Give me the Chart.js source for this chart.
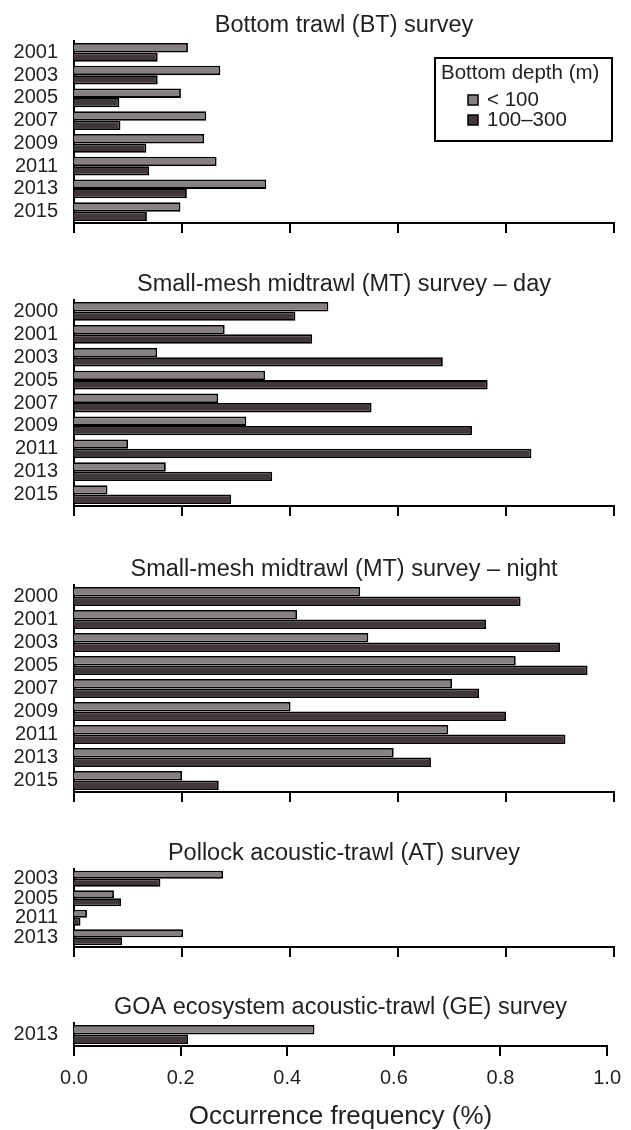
<!DOCTYPE html>
<html>
<head>
<meta charset="utf-8">
<title>Occurrence frequency by survey and bottom depth</title>
<script src="https://cdn.jsdelivr.net/npm/chart.js@4/dist/chart.umd.min.js"></script>
<style>
  html, body { margin: 0; padding: 0; background: #fff; }
  #page { position: relative; width: 631px; height: 1130px; overflow: hidden; }
  .panel { position: absolute; left: 0; }
</style>
</head>
<body>
<div id="page"></div>
<script>
// ---- data -------------------------------------------------------------
const depthLabels = ['< 100', '100\u2013300'];
const legendTitle = 'Bottom depth (m)';
const xTickLabels = ['0.0', '0.2', '0.4', '0.6', '0.8', '1.0'];
const xAxisTitle = 'Occurrence frequency (%)';

const btTitle = 'Bottom trawl (BT) survey';
const btYears = ['2001', '2003', '2005', '2007', '2009', '2011', '2013', '2015'];
const btShallow = [0.211, 0.271, 0.198, 0.245, 0.241, 0.264, 0.356, 0.197];
const btDeep    = [0.155, 0.155, 0.084, 0.086, 0.134, 0.139, 0.209, 0.135];

const mtDayTitle = 'Small-mesh midtrawl (MT) survey \u2013 day';
const mtDayYears = ['2000', '2001', '2003', '2005', '2007', '2009', '2011', '2013', '2015'];
const mtDayShallow = [0.471, 0.279, 0.154, 0.354, 0.267, 0.319, 0.100, 0.170, 0.062];
const mtDayDeep    = [0.410, 0.441, 0.683, 0.766, 0.551, 0.737, 0.847, 0.367, 0.291];

const mtNightTitle = 'Small-mesh midtrawl (MT) survey \u2013 night';
const mtNightYears = ['2000', '2001', '2003', '2005', '2007', '2009', '2011', '2013', '2015'];
const mtNightShallow = [0.530, 0.413, 0.545, 0.818, 0.700, 0.401, 0.693, 0.592, 0.200];
const mtNightDeep    = [0.827, 0.763, 0.900, 0.951, 0.750, 0.800, 0.910, 0.661, 0.268];

const atTitle = 'Pollock acoustic-trawl (AT) survey';
const atYears = ['2003', '2005', '2011', '2013'];
const atShallow = [0.276, 0.074, 0.024, 0.202];
const atDeep    = [0.160, 0.087, 0.012, 0.089];

const geTitle = 'GOA ecosystem acoustic-trawl (GE) survey';
const geYears = ['2013'];
const geShallow = [0.451];
const geDeep    = [0.214];

// ---- styling ----------------------------------------------------------
const FONT = "'Liberation Sans', Arial, Helvetica, sans-serif";
const TEXT = '#231f20';
const SHALLOW_FILL = '#868081';
const DEEP_FILL = '#413738';
const AXIS_LEFT = 74;      // width reserved for the year labels
const RIGHT_PAD = 17;
const TITLE_BLOCK = 32;    // height of the panel title strip

Chart.defaults.font.family = FONT;
Chart.defaults.color = TEXT;

// Boxed legend drawn inside the plot area of the first panel
const depthLegend = {
  id: 'depthLegend',
  afterDraw(chart, args, opts) {
    if (!opts.show) return;
    const { ctx, chartArea } = chart;
    const w = 177, h = 83;
    const x = chartArea.right - 2 - w;
    const y = chartArea.top + 17;
    ctx.save();
    ctx.fillStyle = '#fff';
    ctx.fillRect(x, y, w, h);
    ctx.lineWidth = 2;
    ctx.strokeStyle = '#000';
    ctx.strokeRect(x, y, w, h);
    ctx.font = '20.5px ' + FONT;
    ctx.textBaseline = 'middle';
    ctx.textAlign = 'left';
    ctx.fillStyle = TEXT;
    ctx.fillText(opts.title, x + 6, y + 15);
    chart.data.datasets.forEach((ds, i) => {
      const ry = y + 42 + i * 20;
      ctx.fillStyle = ds.backgroundColor;
      ctx.fillRect(x + 33, ry - 5, 10, 10);
      ctx.lineWidth = 1.5;
      ctx.strokeRect(x + 33, ry - 5, 10, 10);
      ctx.fillStyle = TEXT;
      ctx.fillText(ds.label, x + 52, ry);
    });
    ctx.restore();
  }
};

function makePanel(cfg) {
  const isBottom = !!cfg.bottom;
  const xh = cfg.xHeight;
  const plotH = cfg.plotBottom - cfg.plotTop;
  const height = TITLE_BLOCK + plotH + xh;
  const top = cfg.plotTop - TITLE_BLOCK;

  const holder = document.createElement('div');
  holder.className = 'panel';
  holder.style.top = top + 'px';
  const canvas = document.createElement('canvas');
  canvas.width = 631;
  canvas.height = height;
  canvas.style.width = '631px';
  canvas.style.height = height + 'px';
  holder.appendChild(canvas);
  document.getElementById('page').appendChild(holder);

  return new Chart(canvas, {
    type: 'bar',
    data: {
      labels: cfg.years,
      datasets: [
        { label: depthLabels[0], data: cfg.shallow, backgroundColor: SHALLOW_FILL,
          borderColor: '#000', borderWidth: 1.8 },
        { label: depthLabels[1], data: cfg.deep, backgroundColor: DEEP_FILL,
          borderColor: '#000', borderWidth: 1.8 }
      ]
    },
    options: {
      indexAxis: 'y',
      responsive: false,
      animation: false,
      events: [],
      datasets: { bar: { categoryPercentage: 0.82, barPercentage: 1.0 } },
      layout: { padding: { left: 0, right: RIGHT_PAD, top: 0, bottom: 0 } },
      plugins: {
        legend: { display: false },
        tooltip: { enabled: false },
        title: { display: false },
        depthLegend: { show: !!cfg.legend, title: legendTitle }
      },
      scales: {
        // top axis carries only the panel title, centred over the plot area
        head: {
          type: 'linear',
          position: 'top',
          axis: 'x',
          min: 0,
          max: 1,
          ticks: { display: false },
          grid: { display: false, drawTicks: false },
          border: { display: false },
          title: {
            display: true,
            text: cfg.title,
            color: TEXT,
            font: { size: 23.5, lineHeight: 1.2 },
            padding: { top: 2, bottom: 0 }
          },
          afterFit: (s) => { s.height = TITLE_BLOCK; }
        },
        x: {
          type: 'linear',
          position: 'bottom',
          min: 0,
          max: 1,
          afterBuildTicks: (s) => { s.ticks = xTickLabels.map(t => ({ value: parseFloat(t) })); },
          ticks: {
            display: isBottom,
            color: TEXT,
            font: { size: 20 },
            padding: 10,
            maxRotation: 0,
            callback: (v, i) => xTickLabels[i]
          },
          grid: {
            drawOnChartArea: false,
            drawTicks: true,
            tickLength: 10,
            color: '#000',
            lineWidth: 2
          },
          border: { display: true, color: '#000', width: 2 },
          title: {
            display: isBottom,
            text: xAxisTitle,
            color: TEXT,
            font: { size: 26, lineHeight: 1.0 },
            padding: { top: 0, bottom: 0 }
          },
          afterFit: (s) => { s.height = xh; }
        },
        y: {
          type: 'category',
          offset: true,
          ticks: { color: TEXT, font: { size: 20 }, padding: 16, autoSkip: false },
          grid: { display: true, drawOnChartArea: false, drawTicks: false },
          border: { display: true, color: '#000', width: 2 },
          afterFit: (s) => { s.width = AXIS_LEFT; }
        }
      }
    },
    plugins: [depthLegend]
  });
}

makePanel({ title: btTitle, years: btYears, shallow: btShallow, deep: btDeep,
            plotTop: 41, plotBottom: 237, xHeight: 14, legend: true });
makePanel({ title: mtDayTitle, years: mtDayYears, shallow: mtDayShallow, deep: mtDayDeep,
            plotTop: 300, plotBottom: 520, xHeight: 14 });
makePanel({ title: mtNightTitle, years: mtNightYears, shallow: mtNightShallow, deep: mtNightDeep,
            plotTop: 585, plotBottom: 806, xHeight: 14 });
makePanel({ title: atTitle, years: atYears, shallow: atShallow, deep: atDeep,
            plotTop: 869, plotBottom: 961, xHeight: 14 });
makePanel({ title: geTitle, years: geYears, shallow: geShallow, deep: geDeep,
            plotTop: 1023, plotBottom: 1046, xHeight: 84, bottom: true });
</script>
</body>
</html>
